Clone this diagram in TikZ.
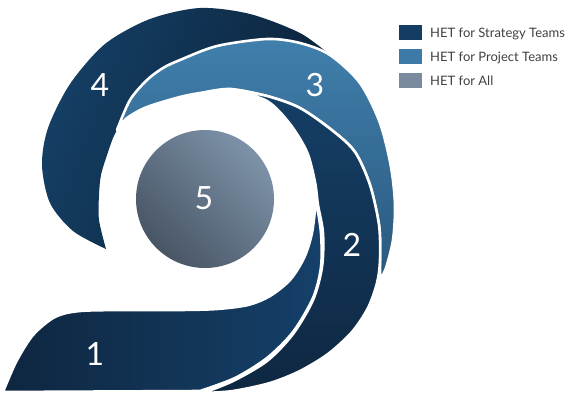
\documentclass[tikz,border=0pt]{standalone}
\usepackage{fontspec}
\setmainfont{Lato}
\definecolor{sfA}{RGB}{20,63,101}
\definecolor{sfM}{RGB}{19,59,96}
\definecolor{sfB}{RGB}{12,33,55}
\definecolor{stA}{RGB}{64,127,172}
\definecolor{stB}{RGB}{42,88,125}
\definecolor{sdA}{RGB}{21,63,102}
\definecolor{sdB}{RGB}{14,39,65}
\definecolor{soA}{RGB}{14,38,64}
\definecolor{soB}{RGB}{21,64,105}
\definecolor{ccA}{RGB}{125,146,168}
\definecolor{ccB}{RGB}{72,85,101}
\definecolor{legStrat}{RGB}{20,61,99}
\definecolor{legProj}{RGB}{61,122,168}
\definecolor{legAll}{RGB}{122,139,160}
\definecolor{legText}{RGB}{64,64,64}
\tikzset{
  band/.style={draw=white, line width=2.6pt, line join=round},
  num/.style={text=white, font=\fontsize{32}{32}\selectfont, inner sep=0pt},
  legbox/.style={minimum width=23pt, minimum height=15pt, inner sep=0pt},
  legtext/.style={text=legText, font=\fontsize{13}{13}\selectfont, inner sep=0pt, anchor=base west}
}
\begin{document}
\begin{tikzpicture}[x=1pt,y=-1pt]
\useasboundingbox (0,0) rectangle (570,400);
% shape 4 (fill only; the white line against 3 comes from 3)
\shade[left color=sfA, middle color=sfM, right color=sfB, shading angle=70]
  plot[smooth] coordinates {(330,55) (300,33) (250,14) (200,8) (150,19) (105,44) (70,84) (48,128) (42,165) (50,203) (73,231) (106,249)}
  -- plot[smooth] coordinates {(106,249) (99,220) (99,195) (101,175) (107,155) (113,138) (117,130) (124,116) (140,100) (160,88) (200,72) (260,62) (300,58) (330,55)}
  -- cycle;
% shape 3
\shadedraw[band, top color=stA, bottom color=stB]
  plot[smooth] coordinates {(117,130) (130,100) (147,80) (163,68) (180,60) (217,46) (267,39) (300,43) (330,55) (360,83) (380,123) (391,167) (395,205) (393,240) (386,268) (380,280)}
  -- plot[smooth] coordinates {(380,280) (380,250) (379,225) (370,185) (355,152) (333,131) (300,108) (267,96) (230,89) (200,93) (180,97) (147,107) (127,118) (117,130)}
  -- cycle;
% shape 2
\shadedraw[band, top color=sdA, bottom color=sdB]
  plot[smooth] coordinates {(230,89) (267,96) (300,108) (333,131) (355,152) (370,185) (379,225) (380,260) (377,283) (368,308) (352,332) (328,354) (300,371) (270,383) (233,391) (203,393)}
  -- plot[smooth] coordinates {(203,393) (233,381) (267,361) (293,334) (313,300) (322,267) (323,233) (318,205) (315,182) (307,152) (290,124) (267,101) (230,89)}
  -- cycle;
% shape 1
\shadedraw[band, left color=soA, right color=soB]
  plot[smooth] coordinates {(316,200) (321,233) (321,267) (313,298) (293,332) (267,358) (235,378) (200,391)}
  -- (3,392)
  -- plot[smooth] coordinates {(3,392) (16,362) (33,335) (55,317) (80,311) (130,310) (180,310) (217,309) (248,305) (270,296) (290,280) (304,258) (312,233) (316,200)}
  -- cycle;
% circle 5
\shade[top color=ccA, bottom color=ccB, shading angle=-45] (205,199) circle[radius=69];
% numbers
\node[num] (n4) at (100,85) {4};
\node[num] (n3) at (315,85) {3};
\node[num] (n2) at (352,245) {2};
\node[num] (n1) at (95,354) {1};
\node[num] (n5) at (204,198) {5};
% legend
\node[legbox, fill=legStrat] (l1) at (410,32.5) {};
\node[legbox, fill=legProj] (l2) at (410,56.5) {};
\node[legbox, fill=legAll] (l3) at (410,80) {};
\node[legtext] (t1) at (430,37.3) {HET for Strategy Teams};
\node[legtext] (t2) at (430,61.5) {HET for Project Teams};
\node[legtext] (t3) at (430,85) {HET for All};
\end{tikzpicture}
\end{document}
